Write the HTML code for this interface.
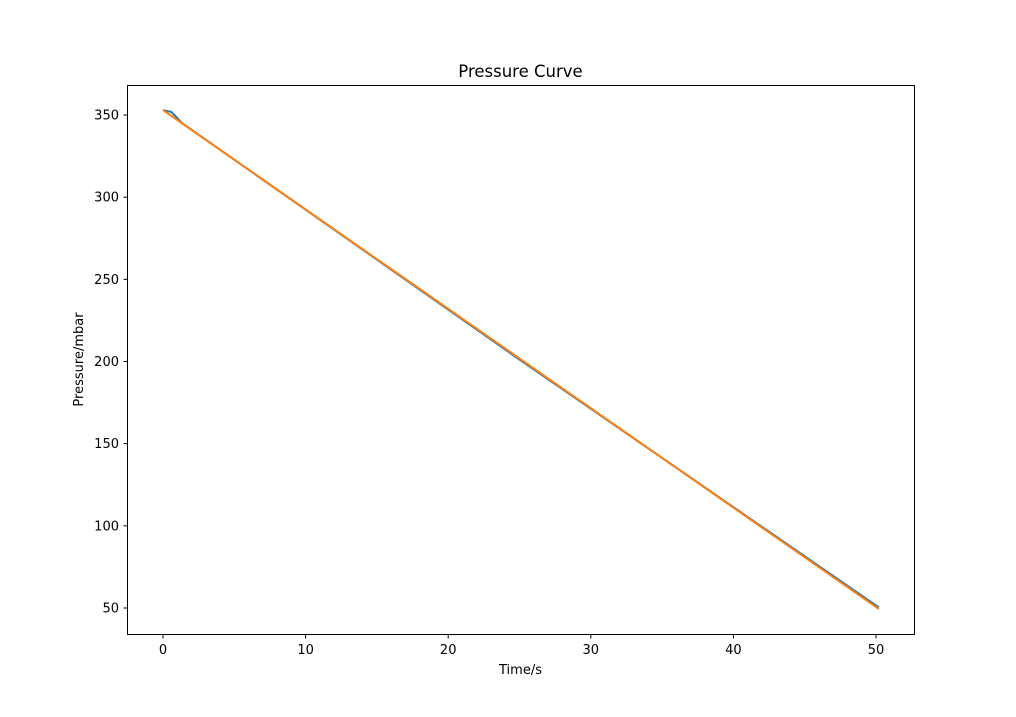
<!DOCTYPE html>
<html><head><meta charset="utf-8"><style>
html,body{margin:0;padding:0;background:#fff;}
svg text{font-family:"DejaVu Sans","Liberation Sans",sans-serif;}
</style></head><body>
<svg id="chart" width="1016" height="712" xmlns="http://www.w3.org/2000/svg">
<rect width="1016" height="712" fill="#fff"/>
<text x="520.5" y="77" text-anchor="middle" font-size="16.5">Pressure Curve</text>
<text x="520.5" y="674" text-anchor="middle" font-size="13">Time/s</text>
<text transform="translate(83,359.5) rotate(-90)" text-anchor="middle" font-size="13">Pressure/mbar</text>
<g id="ticks"></g>
<g id="series"></g>
<rect x="127.5" y="85.5" width="787" height="549" fill="none" stroke="#000" stroke-width="1"/>
</svg>
<script>
const xTicks=[0,10,20,30,40,50];
const yTicks=[50,100,150,200,250,300,350];
const blueT=[0,0.6,1.3,25,50.2];
const blueP=[353,351.8,345.3,201.2,50.3];
const orangeT=[0,50.2];
const orangeP=[353,49.4];
const NS="http://www.w3.org/2000/svg";
function xs(v){return 163+v*(876-163)/50;}
function ys(v){return 608-(v-50)*(608-115)/300;}
const tg=document.getElementById('ticks');
function mk(tag,attrs,parent){const e=document.createElementNS(NS,tag);for(const k in attrs)e.setAttribute(k,attrs[k]);parent.appendChild(e);return e;}
xTicks.forEach(t=>{
 const l=mk('line',{x1:xs(t),x2:xs(t),y1:634.5,y2:638.5,stroke:'#000'},tg);
 
 
 const tx=mk('text',{x:xs(t),y:654,'text-anchor':'middle','font-size':13},tg);
 tx.textContent=t;
 
 
});
yTicks.forEach(t=>{
 const l=mk('line',{x1:123.5,x2:127.5,y1:ys(t),y2:ys(t),stroke:'#000'},tg);
 
 
 const tx=mk('text',{x:119,y:ys(t)+4.5,'text-anchor':'end','font-size':13},tg);
 tx.textContent=t;
 
 
});
const sg=document.getElementById('series');
function line(T,P,color,name){
 const pts=T.map((t,i)=>xs(t)+','+ys(P[i])).join(' ');
 const pl=mk('polyline',{points:pts,fill:'none',stroke:color,'stroke-width':2,'stroke-linejoin':'round'},sg);
 
 
}
line(blueT,blueP,'#1f77b4','blue-pressure-line');
line(orangeT,orangeP,'#ff7f0e','orange-pressure-line');
</script>
</body></html>
